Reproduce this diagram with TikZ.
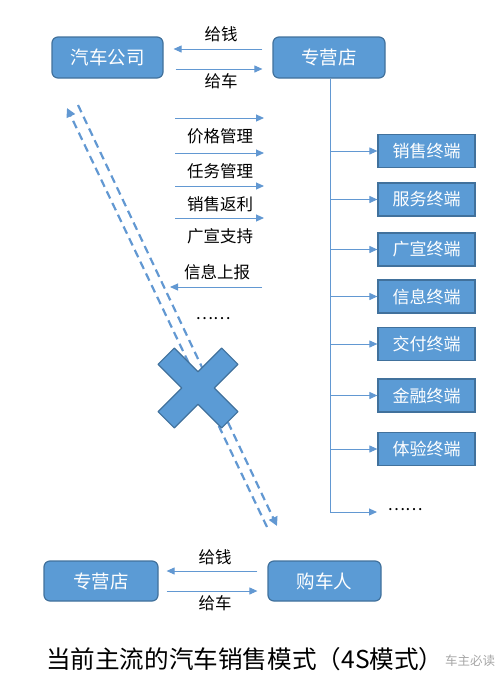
\documentclass[tikz,border=0pt]{standalone}
\usepackage{fontspec}
\setmainfont{Noto Sans CJK SC}
\usetikzlibrary{arrows.meta,calc}
\definecolor{boxfill}{RGB}{91,155,213}
\definecolor{boxline}{RGB}{65,113,156}
\definecolor{arrline}{RGB}{98,152,210}
\tikzset{
  rbox/.style={draw=boxline,line width=1.2pt,fill=boxfill,rounded corners=6pt,text=white,font=\fontsize{18.5}{20}\selectfont,inner sep=0pt},
  tbox/.style={draw=boxline,line width=1.2pt,fill=boxfill,text=white,font=\fontsize{17}{18}\selectfont,minimum width=97pt,minimum height=33pt,inner sep=0pt},
  arr/.style={draw=arrline,line width=1pt,-{Triangle[length=8pt,width=7pt]}},
  lbl/.style={font=\fontsize{16.5}{18}\selectfont,text=black,inner sep=0pt},
  dsh/.style={draw=arrline,line width=2.2pt,dash pattern=on 8pt off 5pt,-{Triangle[length=9pt,width=9pt]}},
}
\begin{document}
\begin{tikzpicture}[x=1pt,y=-1pt]
\useasboundingbox (0,0) rectangle (500,689);
% top boxes
\node[rbox,minimum width=111pt,minimum height=41pt] (qc) at (107.5,57.5) {汽车公司};
\node[rbox,minimum width=112pt,minimum height=41pt] (zy) at (329,57.5) {专营店};
\draw[arr] ([xshift=-10pt,yshift=8.5pt]zy.west) -- ([xshift=10pt,yshift=8.5pt]qc.east);
\draw[arr] ([xshift=12pt,yshift=-11.5pt]qc.east) -- ([xshift=-10pt,yshift=-11.5pt]zy.west);
\node[lbl] (l1) at (221,34) {给钱};
\node[lbl] (l2) at (221,81) {给车};
% middle management arrows
\foreach \y/\t [count=\i] in {118/价格管理,153/任务管理,186/销售返利,218/广宣支持}{
  \coordinate (ma\i) at (175,\y);
  \coordinate (mb\i) at (264,\y);
  \draw[arr] (ma\i) -- (mb\i);
  \node[lbl] (ml\i) at (220,\y+18) {\t};
}
\node[lbl] (ml5) at (217,272) {信息上报};
\coordinate (ia) at (262,287);
\coordinate (ib) at (170,287);
\draw[arr] (ia) -- (ib);
\node[lbl] (dots1) at (213,319) {……};
% terminals
\coordinate (vt) at (330,512);
\draw[draw=arrline,line width=1pt] (zy.south -| 330,0) -- (vt);
\foreach \y/\t [count=\i] in {151/销售终端,199.5/服务终端,249.5/广宣终端,296.5/信息终端,344/交付终端,395.5/金融终端,449/体验终端}{
  \node[tbox] (t\i) at (426.5,\y) {\t};
  \coordinate (b\i) at (330,\y);
  \draw[arr] (b\i) -- (t\i.west);
}
\coordinate (tend) at (377,512);
\draw[arr] (vt) -- (tend);
\node[lbl] (dots2) at (405,510) {……};
% dashed diagonal arrows
\coordinate (da1) at (267,527);
\coordinate (da2) at (67,108);
\coordinate (db1) at (78,105);
\coordinate (db2) at (277,526);
\draw[dsh] (da1) -- (da2);
\draw[dsh] (db1) -- (db2);
% cross
\begin{scope}[shift={(198,388)},rotate=45]
\def\w{11.5}\def\L{45}
\draw[draw=boxline,line width=1.2pt,fill=boxfill,line join=round]
 (\w,-\w)--(\L,-\w)--(\L,\w)--(\w,\w)--(\w,\L)--(-\w,\L)--(-\w,\w)--(-\L,\w)--(-\L,-\w)--(-\w,-\w)--(-\w,-\L)--(\w,-\L)--cycle;
\end{scope}
% bottom
\node[rbox,minimum width=114pt,minimum height=40pt] (zy2) at (101,581) {专营店};
\node[rbox,minimum width=113pt,minimum height=40pt] (gc) at (324.5,581) {购车人};
\draw[arr] ([xshift=-10pt,yshift=10pt]gc.west) -- ([xshift=8pt,yshift=10pt]zy2.east);
\draw[arr] ([xshift=8pt,yshift=-10pt]zy2.east) -- ([xshift=-10pt,yshift=-10pt]gc.west);
\node[lbl] (l3) at (215,557) {给钱};
\node[lbl] (l4) at (215,603) {给车};
% title
\node[anchor=west,inner sep=0pt,font=\fontsize{24.6}{27}\selectfont] (title) at (46,659) {当前主流的汽车销售模式（4S模式）};
\node[anchor=west,inner sep=0pt,text=gray!70,font=\fontsize{12.5}{14}\selectfont] (wm) at (445,661) {车主必读};
\end{tikzpicture}
\end{document}
